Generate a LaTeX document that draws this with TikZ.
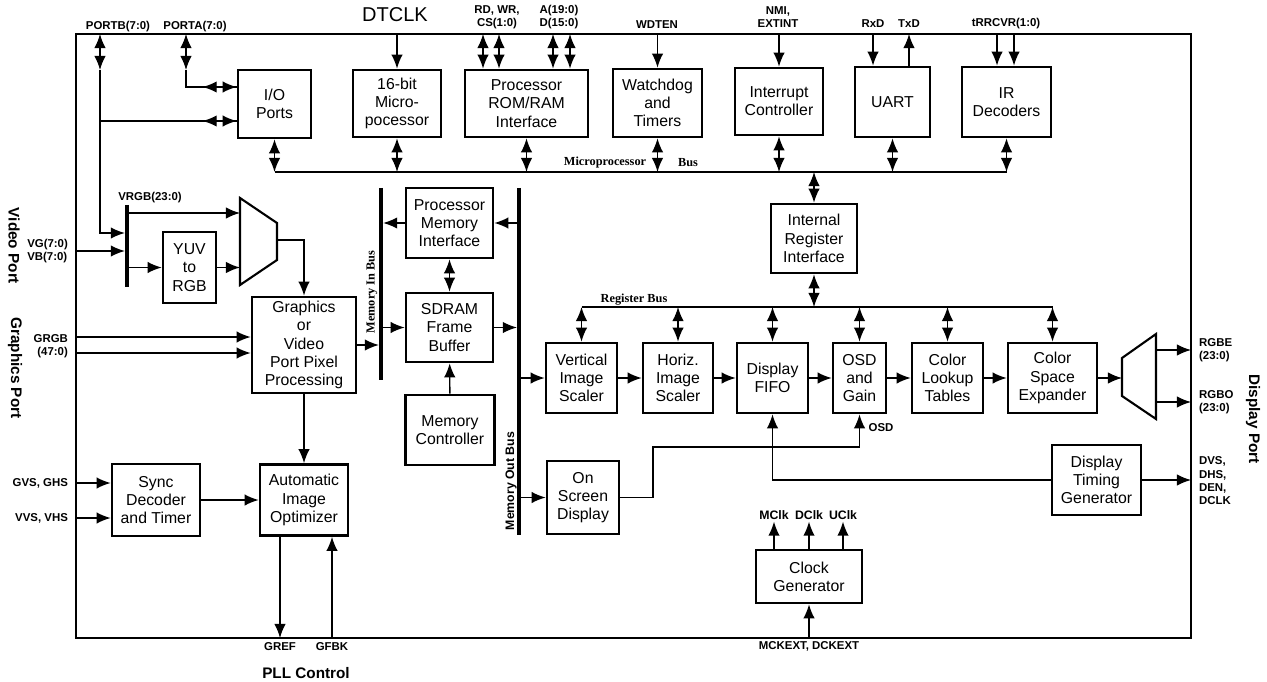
\documentclass[tikz,border=0pt]{standalone}
\usepackage{fontspec}
\setmainfont{Liberation Sans}
\newfontfamily\busfont{Liberation Serif}
\usetikzlibrary{arrows.meta,calc}
\tikzset{
blk/.style n args={2}{draw, line width=1.5pt, minimum width=#1*0.02cm, minimum height=#2*0.02cm, inner sep=0pt, align=center, font=\fontsize{9}{10.4}\selectfont},
wire/.style={line width=0.8pt},
arr/.style={wire, -{Latex[length=8pt,width=6.5pt]}},
darr/.style={wire, {Latex[length=8pt,width=6.5pt]}-{Latex[length=8pt,width=6.5pt]}},
bus/.style={line width=2.5pt},
mux/.style={line width=1.2pt},
pin/.style={font=\bfseries\fontsize{6.5}{7.6}\selectfont, inner sep=1pt, align=center},
side/.style={font=\bfseries\fontsize{8.7}{10}\selectfont, rotate=-90, inner sep=1pt},
busname/.style={font=\busfont\bfseries\fontsize{7}{8}\selectfont, inner sep=1pt}
}

\begin{document}
\begin{tikzpicture}[x=0.02cm,y=-0.02cm]
\useasboundingbox (0,0) rectangle (1267,682);

% chip outline
\coordinate (fnw) at (76,34);
\coordinate (fse) at (1191,638);
\draw [line width=1pt] (fnw) rectangle (fse);

% top row
\node [blk={73}{68}] (io) at (274.5,104) {I/O\\Ports};
\node [blk={88}{67}] (mpu) at (397,103.5) {16-bit\\Micro-\\pocessor};
\node [blk={123}{67}] (romram) at (526.5,103.5) {Processor\\ROM/RAM\\Interface};
\node [blk={89}{68}] (wdog) at (657.5,103) {Watchdog\\and\\Timers};
\node [blk={88}{67}] (intc) at (779,101.5) {Interrupt\\Controller};
\node [blk={75}{70}] (uart) at (892.5,102) {UART};
\node [blk={89}{70}] (ir) at (1006.5,102) {IR\\Decoders};

% memory side
\node [blk={87}{70}] (pmi) at (449.5,223) {Processor\\Memory\\Interface};
\node [blk={87}{69}] (sdram) at (449.5,327.5) {SDRAM\\Frame\\Buffer};
\node [blk={89}{70}] (memc) at (450,430) {Memory\\Controller};
\node [blk={86}{69}] (iri) at (814,238.5) {Internal\\Register\\Interface};

% input side
\node [blk={53}{71}] (yuv) at (189.5,267.5) {YUV\\to\\RGB};
\node [blk={104}{96}] (gvp) at (304,345) {Graphics\\or\\Video\\Port Pixel\\Processing};
\node [blk={88}{72}] (sync) at (156,500) {Sync\\Decoder\\and Timer};
\node [blk={88}{71}] (aio) at (304,500) {Automatic\\Image\\Optimizer};

% display pipe
\node [blk={71}{70}] (vis) at (581.5,378) {Vertical\\Image\\Scaler};
\node [blk={70}{70}] (his) at (678,378) {Horiz.\\Image\\Scaler};
\node [blk={71}{70}] (fifo) at (772.5,378) {Display\\FIFO};
\node [blk={53}{70}] (osdg) at (859.5,378) {OSD\\and\\Gain};
\node [blk={71}{70}] (clut) at (947.5,378) {Color\\Lookup\\Tables};
\node [blk={89}{70}] (cse) at (1052.5,378) {Color\\Space\\Expander};
\node [blk={72}{73}] (osd) at (583,497.5) {On\\Screen\\Display};
\node [blk={89}{70}] (dtg) at (1096.5,480) {Display\\Timing\\Generator};
\node [blk={106}{53}] (clk) at (809,576.5) {Clock\\Generator};

% pin names
\node [font=\fontsize{11.4}{13}\selectfont, inner sep=1pt] (dtclk) at (395,15) {DTCLK};
\node [pin] (pbl) at (118,27) {PORTB(7:0)};
\node [pin] (pal) at (195,27) {PORTA(7:0)};
\node [pin] (rdl) at (497,17) {RD, WR,\\CS(1:0)};
\node [pin] (adl) at (559,17) {A(19:0)\\D(15:0)};
\node [pin] (wdl) at (657,25) {WDTEN};
\node [pin] (nmil) at (778,17) {NMI,\\EXTINT};
\node [pin] (rxl) at (873,24) {RxD};
\node [pin] (txl) at (909,24) {TxD};
\node [pin] (irl) at (1006,24) {tRRCVR(1:0)};
\node [pin] (vrgbl) at (150,198) {VRGB(23:0)};
\node [pin, anchor=east, align=left] (vgl) at (70,251) {VG(7:0)\\VB(7:0)};
\node [pin, anchor=east, align=right] (grgbl) at (70,346) {GRGB\\(47:0)};
\node [pin, anchor=east] (gvsl) at (70,483) {GVS, GHS};
\node [pin, anchor=east] (vvsl) at (70,518) {VVS, VHS};
\node [pin] (grefl) at (280,647) {GREF};
\node [pin] (gfbkl) at (332,647) {GFBK};
\node [pin] (mckl) at (809,646) {MCKEXT, DCKEXT};
\node [pin, anchor=west, align=left] (rgbel) at (1197,350) {RGBE\\(23:0)};
\node [pin, anchor=west, align=left] (rgbol) at (1197,402) {RGBO\\(23:0)};
\node [pin, anchor=west, align=left] (dvsl) at (1197,481) {DVS,\\DHS,\\DEN,\\DCLK};
\node [pin] (osdl) at (881,428) {OSD};
\node [font=\bfseries\fontsize{8.7}{10}\selectfont] (pll) at (306,673) {PLL Control};
\node [side] (vport) at (14,246) {Video Port};
\node [side] (gport) at (15,368) {Graphics Port};
\node [side] (dport) at (1253,419) {Display Port};

% top pins
\draw [arr] (mpu.north |- fnw) -- (mpu.north);
\foreach \x in {483,499,553,570}{
\draw [darr] (\x,0 |- fnw) -- (\x,0 |- romram.north);
}
\draw [arr] (wdog.north |- fnw) -- (wdog.north);
\draw [arr] (intc.north |- fnw) -- (intc.north);
\draw [arr] (873,0 |- fnw) -- (873,0 |- uart.north);
\draw [arr] (909,0 |- uart.north) -- (909,0 |- fnw);
\foreach \x in {997,1014}{
\draw [arr] (\x,0 |- fnw) -- (\x,0 |- ir.north);
}

% ports A and B
\coordinate (pb) at (100,34);
\coordinate (pa) at (186,34);
\coordinate (pbj) at (100,121);
\draw [darr] (pb) -- ++(0,36);
\draw [darr] (pa) -- ++(0,36);
\draw [wire] (186,70) |- (io.west |- 0,87);
\draw [darr] ($(io.west |- 0,87)+(-34,0)$) -- (io.west |- 0,87);
\draw [wire] (pbj) -- (io.west |- pbj);
\draw [darr] ($(io.west |- pbj)+(-34,0)$) -- (io.west |- pbj);

% microprocessor bus
\coordinate (mbw) at (274.5,172);
\coordinate (mbe) at (1006.5,172);
\draw [wire] (mbw) -- (mbe);
\foreach \b in {io,mpu,romram,wdog,intc,uart,ir}{
\draw [darr] (\b.south) -- (\b.south |- mbw);
}
\draw [darr] (iri.north |- mbw) -- (iri.north);
\node [busname] (mbl) at (605,163) {Microprocessor};
\node [busname] (mbl2) at (688,163) {Bus};

% register bus
\coordinate (rbw) at (581.5,307);
\coordinate (rbe) at (1052.5,307);
\draw [wire] (rbw) -- (rbe);
\draw [darr] (iri.south) -- (iri.south |- rbw);
\foreach \b in {vis,his,fifo,osdg,clut,cse}{
\draw [darr] (\b.north |- rbw) -- (\b.north);
}
\node [busname] (rbl) at (634,300) {Register Bus};

% video input
\coordinate (vbt) at (127,205);
\coordinate (vbb) at (127,287);
\draw [bus] (vbt) -- (vbb);
\draw [arr, shorten >=1.2pt] (100,70) |- (vbt |- 0,233);
\draw [arr, shorten >=1.2pt] (fnw |- 0,251) -- (vbt |- 0,251);
\coordinate (mxai) at (240,213);
\coordinate (mxao) at (277,240);
\draw [mux] (240,198) -- (277,223) -- (277,260) -- (240,285) -- cycle;
\draw [arr] (vbt |- mxai) -- (mxai);
\draw [arr] (vbt |- yuv.west) -- (yuv.west);
\draw [arr] (yuv.east) -- (yuv.east -| mxai);
\draw [arr] (mxao) -| (gvp.north);

% graphics input and sync
\foreach \y in {337,353}{
\draw [arr] (fnw |- 0,\y) -- (gvp.west |- 0,\y);
}
\draw [arr] (gvp) -- (aio);
\draw [arr] (fnw |- gvsl) -- (sync.west |- gvsl);
\draw [arr] (fnw |- vvsl) -- (sync.west |- vvsl);
\draw [arr] (sync) -- (aio);
\draw [arr] (grefl.north |- aio.south) -- (grefl.north |- fse);
\draw [arr] (gfbkl.north |- fse) -- (gfbkl.north |- aio.south);

% memory buses
\coordinate (mint) at (381,188);
\coordinate (minb) at (381,380);
\coordinate (moutt) at (519,188);
\coordinate (moutb) at (519,535);
\draw [bus] (mint) -- (minb);
\draw [bus] (moutt) -- (moutb);
\node [busname, rotate=90] (minl) at (372,292) {Memory In Bus};
\node [font=\bfseries\fontsize{7}{8}\selectfont, rotate=90, inner sep=1pt] (moutl) at (511,481) {Memory Out Bus};
\draw [arr, shorten >=1.2pt] (gvp.east) -- (gvp.east -| mint);
\draw [arr, shorten >=1.2pt] (pmi.west) -- (pmi.west -| mint);
\draw [arr] (sdram.west -| mint) -- (sdram.west);
\draw [arr, shorten >=1.2pt] (sdram.east) -- (sdram.east -| moutt);
\draw [arr] (pmi.east -| moutt) -- (pmi.east);
\draw [darr] (pmi) -- (sdram);
\draw [arr] (memc) -- (sdram);
\draw [arr] (vis.west -| moutt) -- (vis.west);
\draw [arr] (osd.west -| moutt) -- (osd.west);

% display pipe
\draw [arr] (vis) -- (his);
\draw [arr] (his) -- (fifo);
\draw [arr] (fifo) -- (osdg);
\draw [arr] (osdg) -- (clut);
\draw [arr] (clut) -- (cse);
\coordinate (mxbi) at (1122,378);
\coordinate (mxbe) at (1156,350);
\coordinate (mxbo) at (1156,402);
\draw [mux] (1122,358) -- (1156,334) -- (1156,419) -- (1122,396) -- cycle;
\draw [arr] (cse) -- (mxbi);
\draw [arr] (mxbe) -- (mxbe -| fse);
\draw [arr] (mxbo) -- (mxbo -| fse);
\coordinate (osdk) at (653,447);
\draw [arr] (osd.east) -| (osdk) -| (osdg.south);
\draw [arr] (dtg.west) -| (fifo.south);
\draw [arr] (dtg.east) -- (dtg.east -| fse);

% clocks
\foreach \x/\n/\t in {774/mclk/MClk,809/dclk/DClk,843/uclk/UClk}{
\node [pin, font=\bfseries\fontsize{7}{8}\selectfont] (\n) at (\x,515) {\t};
\draw [arr] (\x,0 |- clk.north) -- (\n.south);
}
\draw [arr] (clk.south |- fse) -- (clk.south);
\end{tikzpicture}
\end{document}
